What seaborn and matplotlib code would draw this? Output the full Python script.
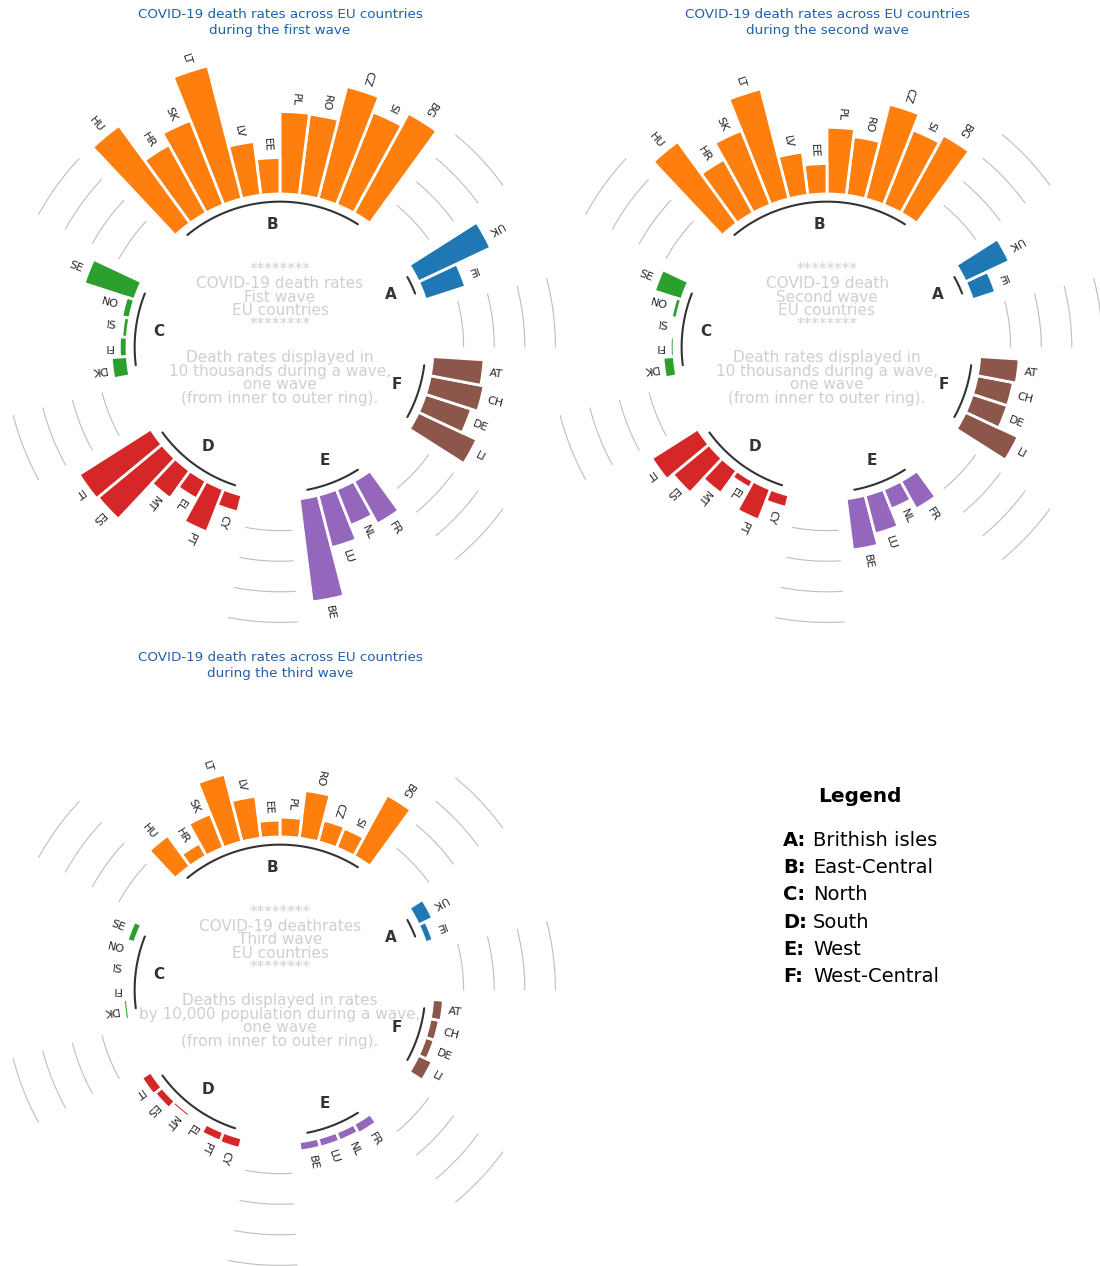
import numpy as np
import matplotlib
matplotlib.use("Agg")
import matplotlib.pyplot as plt
import seaborn as sns

# ---------------------------------------------------------------- data
GROUP_NAMES = ["A", "B", "C", "D", "E", "F"]
GROUP_SIZES = [2, 11, 5, 6, 4, 4]

# countries in drawing order (counter-clockwise, group by group)
COUNTRIES = [
    "IE", "UK",
    "BG", "SI", "CZ", "RO", "PL", "EE", "LV", "LT", "SK", "HR", "HU",
    "SE", "NO", "IS", "FI", "DK",
    "IT", "ES", "MT", "EL", "PT", "CY",
    "BE", "LU", "NL", "FR",
    "LI", "DE", "CH", "AT",
]

WAVE1 = [
    27.6, 52.2,
    74.4, 65.2, 75.8, 53.4, 53.9, 23.8, 35.4, 89.7, 59.3, 50.8, 79.0,
    34.6, 5.3, 3.6, 5.0, 10.5,
    55.6, 54.4, 22.3, 13.3, 30.0, 11.3,
    67.9, 35.4, 25.4, 32.1,
    42.2, 31.6, 35.8, 33.6,
]
WAVE2 = [
    15.9, 31.8,
    58.1, 52.6, 63.8, 38.6, 43.6, 19.9, 28.4, 74.2, 52.2, 40.0, 66.0,
    18.6, 3.6, 0.3, 2.4, 7.4,
    35.8, 30.8, 18.2, 5.2, 21.6, 8.2,
    33.7, 26.1, 13.9, 20.9,
    38.0, 24.1, 24.0, 25.8,
]
WAVE3 = [
    5.2, 10.3,
    45.5, 13.7, 14.6, 31.4, 12.9, 11.0, 27.6, 45.6, 23.9, 9.5, 24.9,
    5.1, 0.8, 0.0, 0.0, 2.5,
    7.2, 6.1, 2.5, 0.3, 6.3, 6.9,
    6.0, 6.0, 6.0, 7.0,
    10.0, 6.0, 6.0, 7.0,
]

TITLES = [
    "COVID-19 death rates across EU countries\nduring the first wave",
    "COVID-19 death rates across EU countries\nduring the second wave",
    "COVID-19 death rates across EU countries\nduring the third wave",
]
CENTER_TITLES = [
    "********\nCOVID-19 death rates\nFist wave\nEU countries\n********",
    "********\nCOVID-19 death\nSecond wave\nEU countries\n********",
    "********\nCOVID-19 deathrates\nThird wave\nEU countries\n********",
]
CENTER_NOTES = [
    "Death rates displayed in\n10 thousands during a wave,\none wave\n(from inner to outer ring).",
    "Death rates displayed in\n10 thousands during a wave,\none wave\n(from inner to outer ring).",
    "Deaths displayed in rates\nby 10,000 population during a wave,\none wave\n(from inner to outer ring).",
]

LEGEND_KEYS = ["A:", "B:", "C:", "D:", "E:", "F:"]
LEGEND_NAMES = ["Brithish isles", "East-Central", "North", "South", "West", "West-Central"]

# ---------------------------------------------------------------- style
sns.set_theme(style="white")
plt.rcParams["font.family"] = ["DejaVu Sans"]
PALETTE = sns.color_palette("tab10", len(GROUP_SIZES))
TITLE_COLOR = "#2360a8"
NOTE_COLOR = "#cfcfcf"

W, H = 1100, 1266
fig = plt.figure(figsize=(W / 100, H / 100), dpi=100)
fig.patch.set_facecolor("white")

RADIUS_PX = 306  # pixel radius of each polar axes (ylim -100..100)


def polar_axes(cx, cy):
    left = (cx - RADIUS_PX) / W
    bottom = (H - cy - RADIUS_PX) / H
    ax = fig.add_axes([left, bottom, 2 * RADIUS_PX / W, 2 * RADIUS_PX / H],
                      projection="polar")
    ax.patch.set_alpha(0)
    return ax


def label_rotation(angle):
    rotation = np.rad2deg(angle)
    if angle <= np.pi:
        return rotation + 180, "right"
    return rotation, "left"


def circular_bars(ax, values, center_title, center_note):
    pad = 3
    n_slots = len(values) + pad * len(GROUP_SIZES)
    angles = np.linspace(0, 2 * np.pi, num=n_slots, endpoint=False)
    width = 2 * np.pi / n_slots

    idxs = []
    offset = 0
    for size in GROUP_SIZES:
        idxs += list(range(offset + pad, offset + size + pad))
        offset += size + pad

    ax.set_theta_offset(0)
    ax.set_ylim(-100, 100)
    ax.set_frame_on(False)
    ax.xaxis.grid(False)
    ax.yaxis.grid(False)
    ax.set_xticks([])
    ax.set_yticks([])

    colors = [PALETTE[i] for i, size in enumerate(GROUP_SIZES) for _ in range(size)]
    bar_angles = angles[idxs]
    ax.bar(bar_angles, values, width=width, color=colors,
           edgecolor="white", linewidth=2)

    for angle, value, label in zip(bar_angles, values, COUNTRIES):
        rotation, alignment = label_rotation(angle)
        ax.text(angle, value + 4, label, ha=alignment, va="center",
                rotation=rotation, rotation_mode="anchor", fontsize=8,
                color="#222222")

    offset = 0
    for group, size in zip(GROUP_NAMES, GROUP_SIZES):
        x1 = np.linspace(angles[offset + pad], angles[offset + size + pad - 1], num=50)
        ax.plot(x1, [-5] * 50, color="#333333", lw=1.5)
        ax.text(np.mean(x1), -20, group, color="#333333", fontsize=11,
                fontweight="bold", ha="center", va="center")

        x2 = np.linspace(angles[offset], angles[offset + pad - 1], num=50)
        for ref in (20, 40, 60, 80):
            ax.plot(x2, [ref] * 50, color="#bebebe", lw=0.8)
        offset += size + pad

    ax.text(0.5, 0.5 + 50 / (2 * RADIUS_PX), center_title, transform=ax.transAxes,
            ha="center", va="center", color=NOTE_COLOR, fontsize=11,
            linespacing=0.9)
    ax.text(0.5, 0.5 - 31 / (2 * RADIUS_PX), center_note, transform=ax.transAxes,
            ha="center", va="center", color=NOTE_COLOR, fontsize=11,
            linespacing=0.9)


CENTERS = [(280, 347), (827, 347), (280, 990)]
for (cx, cy), values, title, ctitle, cnote in zip(
        CENTERS, [WAVE1, WAVE2, WAVE3], TITLES, CENTER_TITLES, CENTER_NOTES):
    ax = polar_axes(cx, cy)
    circular_bars(ax, values, ctitle, cnote)
    fig.text(cx / W, 1 - (cy - 324.5) / H, title, ha="center", va="center",
             color=TITLE_COLOR, fontsize=9.7, linespacing=1.25)

# legend block
fig.text(860 / W, 1 - 797 / H, "Legend", ha="center", va="center",
         fontsize=14.5, fontweight="bold", color="black")
for i, (key, name) in enumerate(zip(LEGEND_KEYS, LEGEND_NAMES)):
    y = 1 - (840 + i * 27.4) / H
    fig.text(783 / W, y, key, ha="left", va="center", fontsize=14,
             fontweight="bold", color="black")
    fig.text(813 / W, y, name, ha="left", va="center", fontsize=14,
             color="black")

fig.savefig("out.png", dpi=100, facecolor="white")
